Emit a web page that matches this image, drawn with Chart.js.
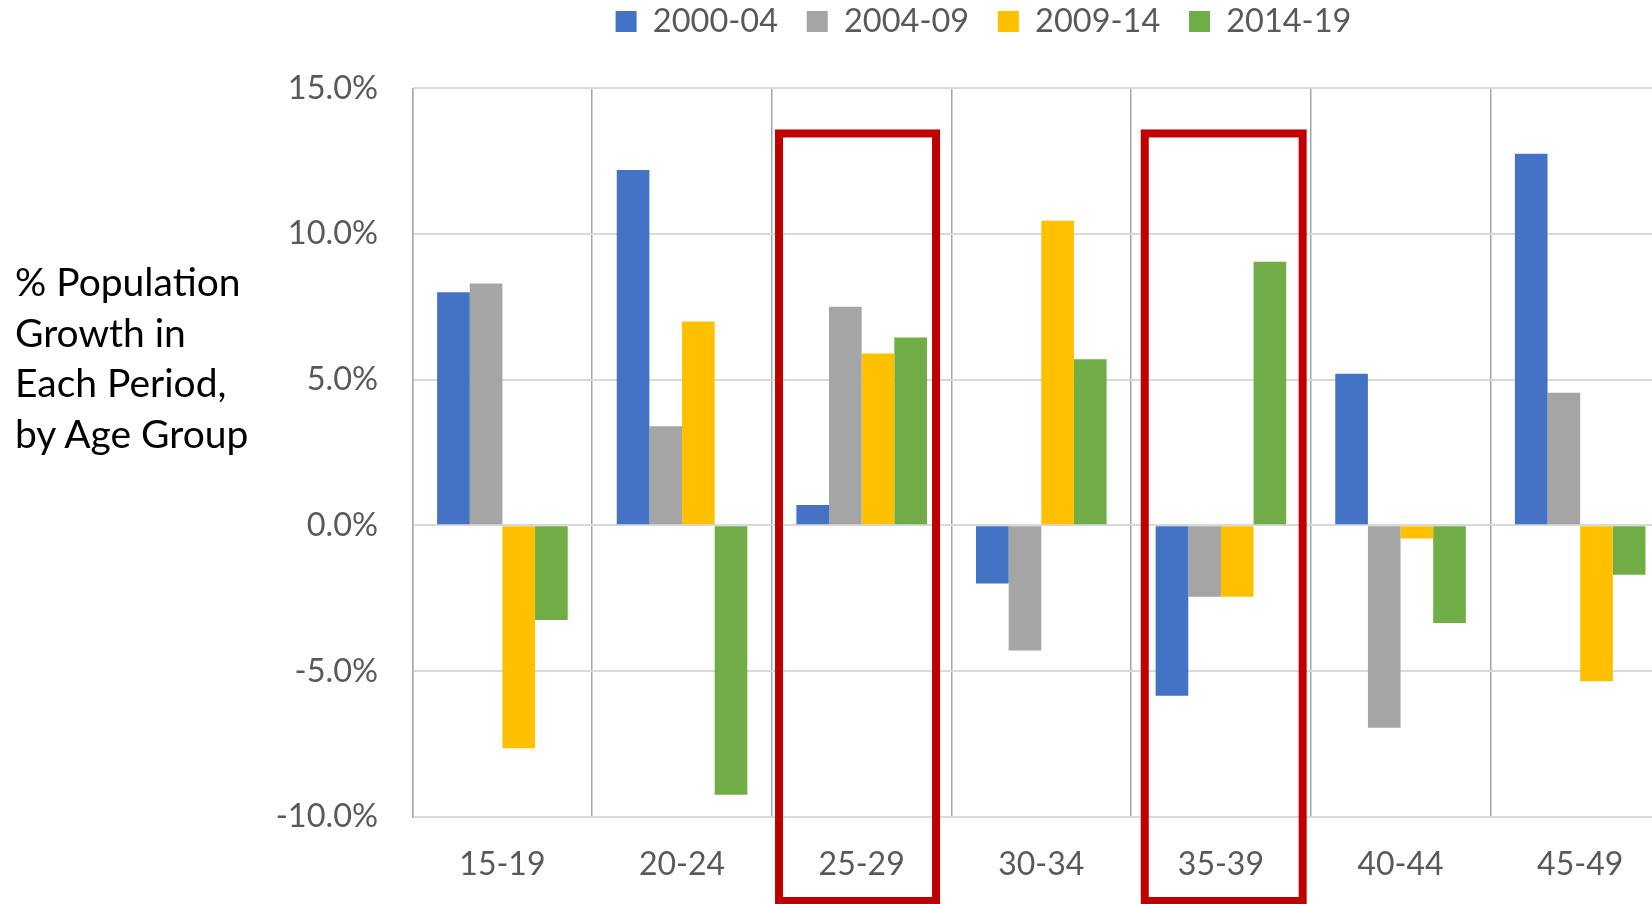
<!DOCTYPE html>
<html>
<head>
<meta charset="utf-8">
<script src="https://cdn.jsdelivr.net/npm/chart.js@4/dist/chart.umd.min.js"></script>
<style>
  html, body { margin: 0; padding: 0; background: #ffffff; overflow: hidden; width: 1652px; height: 904px; }
  #wrap { position: absolute; left: 0; top: 0; width: 1720px; height: 904px; }
  #ytitle { position: absolute; left: 15px; top: 256px; font-family: Lato, "Open Sans", sans-serif; font-size: 39px; line-height: 50.6px; color: #000000; white-space: nowrap; }
</style>
</head>
<body>
<div id="wrap"><canvas id="c"></canvas></div>
<div id="ytitle">% Population<br>Growth in<br>Each Period,<br>by Age Group</div>
<script>
// ---- data ----
const ageGroups = ['15-19', '20-24', '25-29', '30-34', '35-39', '40-44', '45-49'];
const seriesNames = ['2000-04', '2004-09', '2009-14', '2014-19'];
const growth2000_04 = [8.0, 12.2, 0.7, -2.0, -5.85, 5.2, 12.75];
const growth2004_09 = [8.3, 3.4, 7.5, -4.3, -2.45, -6.95, 4.55];
const growth2009_14 = [-7.65, 7.0, 5.9, 10.45, -2.45, -0.45, -5.35];
const growth2014_19 = [-3.25, -9.25, 6.45, 5.7, 9.05, -3.35, -1.7];
const yTicks = [-10, -5, 0, 5, 10, 15];
const highlighted = ['25-29', '35-39'];

const colors = ['#4472C4', '#A5A5A5', '#FFC000', '#70AD47'];
const allSeries = [growth2000_04, growth2004_09, growth2009_14, growth2014_19];
const FONT = 'Lato, "Open Sans", sans-serif';

// red highlight boxes around selected categories (annotation)
const highlightPlugin = {
  id: 'highlightBoxes',
  afterDraw(chart) {
    const x = chart.scales.x, y = chart.scales.y, ctx = chart.ctx;
    const catW = x.getPixelForValue(1) - x.getPixelForValue(0);
    const offs = { '25-29': [-0.46, 0.414], '35-39': [-0.424, 0.455] };
    ctx.save();
    ctx.strokeStyle = '#C00000';
    ctx.lineWidth = 8;
    ctx.lineJoin = 'miter';
    highlighted.forEach(cat => {
      const i = ageGroups.indexOf(cat);
      const cx = x.getPixelForValue(i);
      const o = offs[cat];
      const left = cx + o[0] * catW, right = cx + o[1] * catW;
      const top = y.getPixelForValue(13.45);
      const bottom = chart.height - 3;
      ctx.strokeRect(left, top, right - left, bottom - top);
    });
    ctx.restore();
  }
};

new Chart(document.getElementById('c'), {
  type: 'bar',
  data: {
    labels: ageGroups,
    datasets: seriesNames.map((name, k) => ({
      label: name,
      data: allSeries[k],
      backgroundColor: colors[k],
      borderWidth: 0,
      categoryPercentage: 0.727,
      barPercentage: 1.0
    }))
  },
  options: {
    responsive: true,
    maintainAspectRatio: false,
    animation: false,
    devicePixelRatio: 1,
    layout: { padding: { top: -23.45, left: 297, right: 50, bottom: 0 } },
    plugins: {
      legend: {
        position: 'top',
        align: 'center',
        labels: {
          font: { family: FONT, size: 32.5 },
          color: '#595959',
          boxWidth: 21,
          boxHeight: 21,
          padding: 28.7
        }
      },
      title: {
        display: true,
        text: '',
        weight: 500,
        font: { size: 10, lineHeight: 1 },
        padding: { top: 30.55, bottom: 0 }
      },
      tooltip: { enabled: false }
    },
    scales: {
      x: {
        type: 'category',
        offset: true,
        grid: { offset: true, color: '#A6A6A6', lineWidth: 1.5, drawTicks: false },
        border: { display: false },
        ticks: { font: { family: FONT, size: 32 }, color: '#595959', padding: 29, maxRotation: 0 },
        afterFit(scale) { scale.height = 87.3; }
      },
      y: {
        min: -10,
        max: 15,
        afterBuildTicks(scale) { scale.ticks = yTicks.map(v => ({ value: v })); },
        grid: { color: '#D9D9D9', lineWidth: 2, drawTicks: false },
        border: { display: true, color: '#ADADAD', width: 1.5 },
        ticks: {
          font: { family: FONT, size: 32.5 },
          color: '#595959',
          padding: 34.5,
          callback: v => v.toFixed(1) + '%'
        },
        afterFit(scale) {
          scale.width = 412.6 - 297;
          scale._computeLabelArea = () => undefined; // let labels extend past the narrowed box
        }
      }
    }
  },
  plugins: [highlightPlugin]
});
</script>
</body>
</html>
